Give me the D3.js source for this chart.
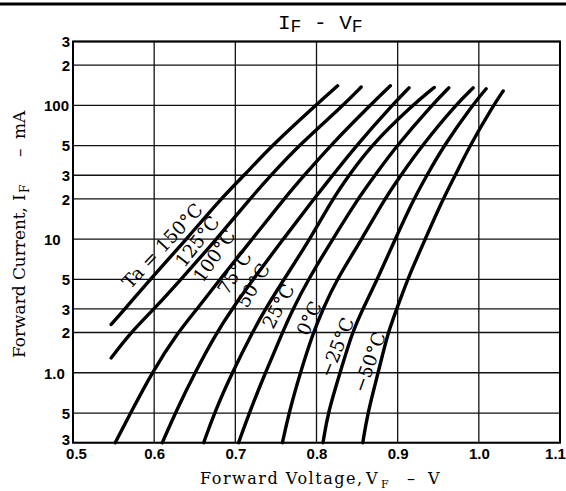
<!DOCTYPE html>
<html>
<head>
<meta charset="utf-8">
<script src="https://cdn.jsdelivr.net/npm/d3@7"></script>
<style>
body { margin: 0; background: #fff; }
</style>
</head>
<body>
<svg id="chart" width="566" height="491"></svg>
<script>
// forward voltage (V) / forward current (mA), one array per Ta
var ta_150 = [[0.547,2.3],[0.564,3],[0.595,5],[0.640,10],[0.682,20],[0.711,30],[0.745,50],[0.799,100],[0.826,140]]
var ta_125 = [[0.547,1.29],[0.571,2],[0.600,3],[0.633,5],[0.677,10],[0.718,20],[0.744,30],[0.778,50],[0.833,100],[0.855,137]]
var ta_100 = [[0.552,0.3],[0.571,0.5],[0.597,1],[0.629,2],[0.653,3],[0.681,5],[0.721,10],[0.760,20],[0.785,30],[0.817,50],[0.866,100],[0.891,140]]
var ta_75 = [[0.610,0.3],[0.626,0.5],[0.650,1],[0.677,2],[0.696,3],[0.722,5],[0.759,10],[0.797,20],[0.820,30],[0.849,50],[0.893,100],[0.914,135]]
var ta_50 = [[0.661,0.3],[0.674,0.5],[0.696,1],[0.721,2],[0.737,3],[0.760,5],[0.792,10],[0.820,20],[0.840,30],[0.867,50],[0.918,100],[0.945,136]]
var ta_25 = [[0.704,0.3],[0.717,0.5],[0.737,1],[0.758,2],[0.771,3],[0.790,5],[0.820,10],[0.851,20],[0.872,30],[0.899,50],[0.942,100],[0.963,135]]
var ta_0 = [[0.758,0.3],[0.766,0.5],[0.780,1],[0.796,2],[0.808,3],[0.825,5],[0.856,10],[0.884,20],[0.904,30],[0.930,50],[0.971,100],[0.993,135]]
var ta_m25 = [[0.808,0.3],[0.814,0.5],[0.829,1],[0.844,2],[0.857,3],[0.875,5],[0.897,10],[0.920,20],[0.936,30],[0.957,50],[0.992,100],[1.009,133]]
var ta_m50 = [[0.857,0.3],[0.863,0.5],[0.876,1],[0.888,2],[0.899,3],[0.912,5],[0.934,10],[0.956,20],[0.971,30],[0.989,50],[1.018,100],[1.030,128]]

var series = [ta_150, ta_125, ta_100, ta_75, ta_50, ta_25, ta_0, ta_m25, ta_m50]
var temp_names = ['Ta = 150°C', '125°C', '100°C', '75°C', '50°C', '25°C', '0°C', '\u221225°C', '\u221250°C']
// where each label sits: [V, mA, rotation]
var label_at = [[0.610,8.9,-47],[0.653,9.6,-52],[0.674,7.5,-55],[0.699,5.6,-58],[0.722,4.5,-60],[0.753,3.15,-62],[0.791,2.55,-65],[0.825,1.55,-68],[0.865,1.2,-70]]

var x_ticks = [0.5, 0.6, 0.7, 0.8, 0.9, 1.0, 1.1]
var x_tick_text = ['0.5', '0.6', '0.7', '0.8', '0.9', '1.0', '1.1']
var y_ticks = [0.3, 0.5, 1, 2, 3, 5, 10, 20, 30, 50, 100, 200, 300]
var y_tick_text = ['3', '5', '1.0', '2', '3', '5', '10', '2', '3', '5', '100', '2', '3']

var svg = d3.select('#chart')

var plot_left = 73, plot_right = 560, plot_top = 41.5, plot_bottom = 442.7

var x = d3.scaleLinear().domain([0.5, 1.1]).range([plot_left, plot_right])
var y = d3.scaleLog().domain([0.3, 300]).range([plot_bottom, plot_top])

// top rule across the page
svg.append('line')
    .attr('x1', 0).attr('x2', 566)
    .attr('y1', 4).attr('y2', 4)
    .style('stroke', '#000')
    .style('stroke-width', 3)

// title  IF - VF
var title = svg.append('text')
    .attr('x', 278).attr('y', 29)
    .style('font-family', '"Liberation Mono", "DejaVu Sans Mono", monospace')
    .style('font-size', '21px')
title.append('tspan').text('I')
title.append('tspan').text('F').attr('dy', 3).style('font-size', '18px')
title.append('tspan').text(' - ').attr('dy', -3)
title.append('tspan').text('V')
title.append('tspan').text('F').attr('dy', 3).style('font-size', '18px')

// grid
var grid = svg.append('g')
grid.selectAll('line.v')
    .data(x_ticks)
    .enter().append('line')
    .attr('class', 'v')
    .attr('x1', d => x(d)).attr('x2', d => x(d))
    .attr('y1', plot_top).attr('y2', plot_bottom)
    .style('stroke', '#111')
    .style('stroke-width', 1.3)

grid.selectAll('line.h')
    .data(y_ticks)
    .enter().append('line')
    .attr('class', 'h')
    .attr('x1', plot_left).attr('x2', plot_right)
    .attr('y1', d => y(d)).attr('y2', d => y(d))
    .style('stroke', '#111')
    .style('stroke-width', 1.3)

svg.append('rect')
    .attr('x', plot_left).attr('y', plot_top)
    .attr('width', plot_right - plot_left).attr('height', plot_bottom - plot_top)
    .style('fill', 'none')
    .style('stroke', '#000')
    .style('stroke-width', 2)

// axes (labels only, the grid does the lines)
var x_axis = d3.axisBottom(x)
    .tickValues(x_ticks)
    .tickSize(0)
    .tickPadding(0)
    .tickFormat((d, i) => x_tick_text[i])

svg.append('g')
    .attr('transform', `translate(0,${plot_bottom})`)
    .call(x_axis)
    .call(g => g.select('.domain').remove())
    .selectAll('text')
    .attr('y', 16.5)
    .attr('dy', 0)
    .attr('dx', (d, i) => i == 0 ? 3 : (i == x_ticks.length - 1 ? -5 : 0))
    .style('font-family', '"Liberation Sans", Arial, sans-serif')
    .style('font-weight', 'bold')
    .style('font-size', '15px')
    .style('fill', '#000')

var y_axis = d3.axisLeft(y)
    .tickValues(y_ticks)
    .tickSize(0)
    .tickPadding(0)
    .tickFormat((d, i) => y_tick_text[i])

svg.append('g')
    .attr('transform', `translate(${plot_left},0)`)
    .call(y_axis)
    .call(g => g.select('.domain').remove())
    .selectAll('text')
    .attr('x', (d, i) => y_tick_text[i].length > 1 ? -29 : -3)
    .attr('text-anchor', (d, i) => y_tick_text[i].length > 1 ? 'start' : 'end')
    .attr('dy', (d, i) => i == 0 ? '0.15em' : '0.36em')
    .style('font-family', '"Liberation Sans", Arial, sans-serif')
    .style('font-weight', 'bold')
    .style('font-size', '15px')
    .style('fill', '#000')

// curves, smoothed through the read points
var lineGenerator = d3.line()
    .x(d => x(d[0]))
    .y(d => y(d[1]))
    .curve(d3.curveBasis)

svg.append('g')
    .selectAll('path')
    .data(series)
    .enter().append('path')
    .attr('d', d => lineGenerator(d))
    .style('fill', 'none')
    .style('stroke', '#000')
    .style('stroke-width', 3.4)
    .style('stroke-linecap', 'round')

// temperature labels
svg.append('g')
    .selectAll('text')
    .data(temp_names)
    .enter().append('text')
    .attr('transform', (d, i) => `translate(${x(label_at[i][0])},${y(label_at[i][1])}) rotate(${label_at[i][2]})`)
    .attr('text-anchor', 'middle')
    .attr('dy', '0.35em')
    .style('font-family', '"DejaVu Serif", serif')
    .style('font-size', '18.5px')
    .style('fill', '#000')
    .text(d => d)

// x axis title
var xt = svg.append('text')
    .attr('y', 484)
    .style('font-family', '"DejaVu Serif", serif')
    .style('font-size', '16px')
xt.append('tspan').attr('x', 200).attr('textLength', 162).attr('lengthAdjust', 'spacing').text('Forward Voltage,')
xt.append('tspan').attr('x', 366).text('V')
xt.append('tspan').attr('x', 381).attr('dy', 4).style('font-size', '11px').text('F')
xt.append('tspan').attr('x', 407).attr('dy', -4).text('\u2013')
xt.append('tspan').attr('x', 428).text('V')

// y axis title, rotated
var yt = svg.append('text')
    .attr('transform', 'translate(25,0) rotate(-90)')
    .style('font-family', '"DejaVu Serif", serif')
    .style('font-size', '17px')
yt.append('tspan').attr('x', -358).attr('textLength', 151).attr('lengthAdjust', 'spacing').text('Forward Current,')
yt.append('tspan').attr('x', -201).text('I')
yt.append('tspan').attr('x', -193).attr('dy', 4).style('font-size', '12px').text('F')
yt.append('tspan').attr('x', -157).attr('dy', -4).text('\u2013')
yt.append('tspan').attr('x', -139).text('mA')
</script>
</body>
</html>
